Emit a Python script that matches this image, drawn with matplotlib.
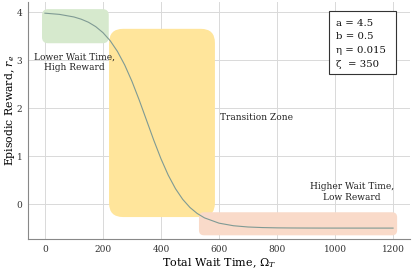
import numpy as np
import matplotlib
matplotlib.use('Agg')
import matplotlib.pyplot as plt
from matplotlib.patches import FancyBboxPatch, Rectangle

# wait time and episodic reward
wait = [0, 50, 100, 125, 150, 175, 200, 225, 250, 275, 300, 325, 350, 375,
        400, 425, 450, 475, 500, 525, 550, 600, 650, 700, 750, 800, 850,
        900, 950, 1000, 1050, 1100, 1150, 1200]
reward = [3.976, 3.951, 3.897, 3.851, 3.787, 3.696, 3.571, 3.402, 3.179,
          2.897, 2.556, 2.167, 1.75, 1.333, 0.944, 0.603, 0.321, 0.098,
          -0.071, -0.196, -0.287, -0.397, -0.451, -0.477, -0.489, -0.495,
          -0.4975, -0.4988, -0.4995, -0.4998, -0.4999, -0.5, -0.5, -0.5]

# zones: (x0, x1, y0, y1)
zone_low = (-10, 220, 3.35, 4.06)
zone_mid = (221, 586, -0.27, 3.65)
zone_high = (531, 1214, -0.65, -0.17)

params = ['a = 4.5', 'b = 0.5', '\u03b7 = 0.015', '\u03b6  = 350']

plt.rcParams['font.family'] = 'DejaVu Serif'
plt.rcParams['mathtext.fontset'] = 'dejavuserif'

fig = plt.figure(figsize=(4.15, 2.69), dpi=100)
ax = fig.add_axes([0.067, 0.111, 0.92, 0.88])

xlim = (-59, 1257)
ylim = (-0.73, 4.2)
ax.set_xlim(*xlim)
ax.set_ylim(*ylim)

# aspect to keep rounded corners circular on screen
px_x = (xlim[1] - xlim[0]) / (0.92 * 415)
px_y = (ylim[1] - ylim[0]) / (0.88 * 269)
asp = px_y / px_x


def zone(z, color, r):
    x0, x1, y0, y1 = z
    p = FancyBboxPatch((x0, y0), x1 - x0, y1 - y0,
                       boxstyle='round,pad=0,rounding_size=%f' % (r * px_x),
                       mutation_aspect=asp, fc=color, ec='none', zorder=1)
    ax.add_patch(p)


zone(zone_low, '#d6e9cd', 6)
zone(zone_mid, '#ffe59b', 14)
zone(zone_high, '#f9dac9', 5)

ax.plot(wait, reward, color='#7f9a94', lw=0.8, zorder=3)

ax.text(103, 2.96, 'Lower Wait Time,\nHigh Reward', fontsize=6.5,
        ha='center', va='center', color='#222222', zorder=4)
ax.text(603, 1.8, 'Transition Zone', fontsize=6.5, ha='left', va='center',
        color='#222222', zorder=4)
ax.text(1059, 0.25, 'Higher Wait Time,\nLow Reward', fontsize=6.5,
        ha='center', va='center', color='#222222', zorder=4)

# parameter box
ax.add_patch(Rectangle((0.788, 0.697), 0.176, 0.267, transform=ax.transAxes,
                       fc='white', ec='#333333', lw=0.8, zorder=5))
for i, s in enumerate(params):
    ax.text(0.806, 0.913 - i * 0.059, s, transform=ax.transAxes,
            fontsize=7.3, ha='left', va='center', color='#111111', zorder=6)

ax.set_xticks([0, 200, 400, 600, 800, 1000, 1200])
ax.set_yticks([0, 1, 2, 3, 4])
ax.grid(True, color='#d9d9d9', lw=0.7, zorder=0)
ax.set_axisbelow(True)
for s in ['top', 'right']:
    ax.spines[s].set_visible(False)
for s in ['left', 'bottom']:
    ax.spines[s].set_color('#888888')
    ax.spines[s].set_linewidth(0.8)
ax.tick_params(length=0, labelsize=6.5, colors='#333333', pad=4)

ax.set_xlabel('Total Wait Time, $\\Omega_T$', fontsize=8, labelpad=2)
ax.set_ylabel('Episodic Reward, $r_e$', fontsize=7.8)
ax.yaxis.set_label_coords(-0.028, 0.545)

fig.savefig('out.png', dpi=100)
